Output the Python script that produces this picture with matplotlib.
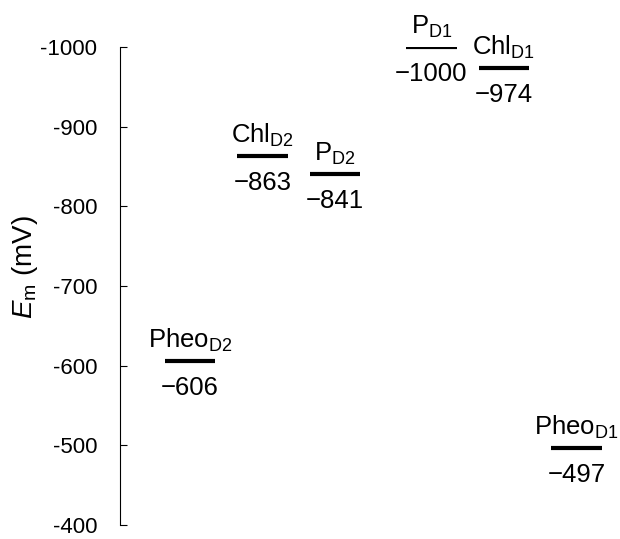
import matplotlib
matplotlib.use("Agg")
import matplotlib.pyplot as plt

# Data
names = [r"Pheo$_{\mathrm{D2}}$", r"Chl$_{\mathrm{D2}}$", r"P$_{\mathrm{D2}}$",
         r"P$_{\mathrm{D1}}$", r"Chl$_{\mathrm{D1}}$", r"Pheo$_{\mathrm{D1}}$"]
values = [-606, -863, -841, -1000, -974, -497]
yticks = [-1000, -900, -800, -700, -600, -500, -400]

# Layout
xpos = [1, 2, 3, 4.33, 5.33, 6.33]
half = 0.35

plt.rcParams['font.family'] = ['Liberation Sans', 'DejaVu Sans']
plt.rcParams['mathtext.fontset'] = 'custom'
plt.rcParams['mathtext.rm'] = 'Liberation Sans'
plt.rcParams['mathtext.it'] = 'Liberation Sans:italic'
plt.rcParams['axes.unicode_minus'] = False

fig = plt.figure(figsize=(6.2, 5.39), dpi=100)
ax = fig.add_axes([120/620, 14/539, 500/620, 478/539])

for x, v, n in zip(xpos, values, names):
    ax.plot([x - half, x + half], [v, v], color='black', lw=3, solid_capstyle='butt')
    ax.annotate(n, (x, v), xytext=(0, 9.5), textcoords='offset points',
                ha='center', va='baseline', fontsize=18.5)
    ax.annotate("\u2212" + str(abs(v)), (x, v), xytext=(0, -11), textcoords='offset points',
                ha='center', va='top', fontsize=18.5)

ax.set_xlim(1 - 70/72.5, 1 + 430/72.5)
ax.set_ylim(-400, -1000)
ax.set_yticks(yticks)
ax.set_yticklabels([str(t) for t in yticks])
ax.tick_params(axis='y', direction='in', length=5, width=0.8, pad=16.5, labelsize=16)
ax.set_xticks([])
for s in ['top', 'right', 'bottom']:
    ax.spines[s].set_visible(False)
ax.spines['left'].set_linewidth(0.8)
ax.set_ylabel(r"$\mathit{E}_{\mathrm{m}}$ (mV)", fontsize=20)
ax.yaxis.set_label_coords(-0.16, 0.54)

fig.savefig("out.png", dpi=100)
